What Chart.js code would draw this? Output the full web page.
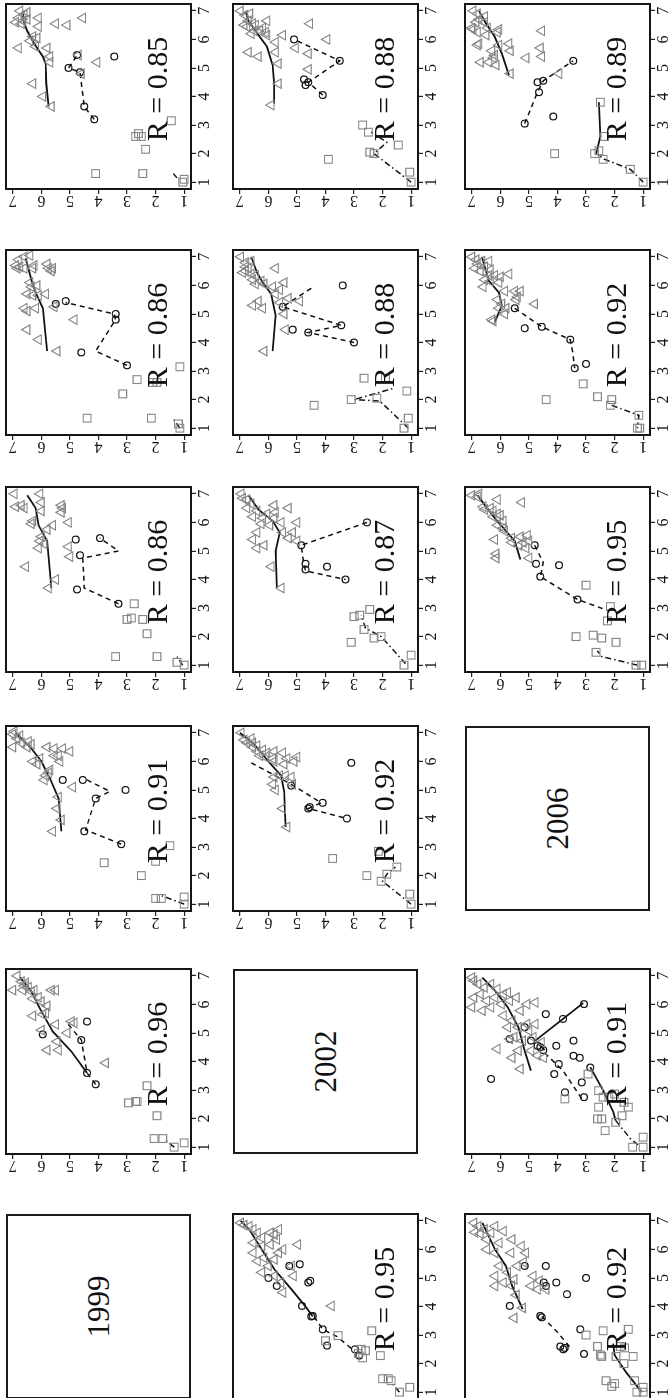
<!DOCTYPE html>
<html>
<head>
<meta charset="utf-8">
<title>Panels 1999 / 2002 / 2006</title>
<script src="https://cdn.jsdelivr.net/npm/chart.js@4.4.1/dist/chart.umd.min.js"></script>
<style>
  html, body { margin: 0; padding: 0; background: #fff; overflow: hidden; width: 668px; height: 1398px; }
  /* the figure is laid out landscape and turned a quarter to the left */
  #page { position: absolute; left: 0; top: 0; width: 1398px; height: 668px;
          transform-origin: 0 0; transform: translate(0, 1398px) rotate(-90deg); }
  .panel { position: absolute; }
  .panel canvas { position: absolute; left: 0; top: 0; }
  .rlab { position: absolute; font-family: "Liberation Serif", serif; font-size: 30px; line-height: 30px;
          white-space: nowrap; color: #111; transform: translateX(-50%); }
  .year { position: absolute; box-sizing: border-box; border: 2px solid #1a1a1a; display: flex;
          align-items: center; justify-content: center; font-family: "Liberation Serif", serif;
          font-size: 31px; color: #111; }
</style>
</head>
<body>
<div id="page"></div>
<script>
// --- DATA ---
const tickValues = [1, 2, 3, 4, 5, 6, 7];
const yearLabels = ["1999", "2002", "2006"];

// row 1, col 2  (R = 0.96)
const tri_1_2 = [[7.0,6.85],[6.5,7.0],[6.8,6.7],[6.65,6.6],[6.6,6.45],[6.45,6.35],[6.5,6.25],[6.75,6.55],[6.5,6.65],[6.5,5.65],[6.5,5.5],[6.2,6.3],[6.25,6.1],[6.1,6.0],[5.95,5.8],[5.6,6.3],[5.65,5.95],[5.7,5.85],[5.3,5.5],[5.4,4.95],[5.35,4.85],[5.0,5.1],[5.1,6.0],[4.7,5.45],[4.4,5.4],[4.4,5.8],[3.95,3.75]];
const cir_1_2 = [[5.4,4.4],[4.95,5.95],[4.75,4.6],[3.6,4.4],[3.2,4.1]];
const sq_1_2 = [[3.15,2.3],[2.55,2.95],[2.6,2.7],[2.6,2.65],[2.1,1.95],[1.3,2.05],[1.3,1.75],[1.15,1.0],[1.0,1.35]];
const solid_1_2 = [[3.6,4.4],[4.35,4.95],[5.05,5.6],[5.85,6.05],[6.45,6.35],[6.95,6.75]];
const dash_1_2 = [[3.2,4.1],[3.6,4.4],[4.75,4.6],[5.05,4.85],[5.35,5.1]];
const dotdash_1_2 = [[1.0,1.35],[1.25,1.65]];

// row 1, col 3  (R = 0.91)
const tri_1_3 = [[6.95,7.0],[7.05,6.95],[6.8,6.85],[6.9,6.75],[6.65,6.7],[6.7,6.45],[6.6,6.35],[6.5,6.5],[6.5,7.0],[6.5,5.8],[6.45,5.55],[6.45,5.25],[6.35,5.0],[6.2,5.55],[6.2,5.4],[6.0,5.35],[6.0,6.3],[5.9,6.15],[6.1,6.05],[5.5,5.85],[5.6,5.75],[5.35,5.9],[5.7,5.7],[5.1,4.9],[4.75,5.4],[4.35,5.45],[3.95,5.3],[3.55,5.6]];
const cir_1_3 = [[5.35,5.25],[5.35,4.55],[5.0,3.05],[4.7,4.1],[3.55,4.5],[3.1,3.2]];
const sq_1_3 = [[3.05,1.5],[2.45,3.8],[2.5,2.0],[2.0,2.5],[1.2,2.0],[1.2,1.8],[1.25,1.0],[1.0,1.0]];
const solid_1_3 = [[3.55,5.3],[4.7,5.4],[5.4,5.7],[6.0,6.0],[6.45,6.35],[7.0,6.9]];
const dash_1_3 = [[3.1,3.2],[3.6,4.45],[4.7,4.1],[4.95,3.6],[5.4,4.5]];
const dotdash_1_3 = [[1.0,1.0],[1.3,1.8]];

// row 1, col 4  (R = 0.86)
const tri_1_4 = [[7.0,6.95],[7.0,6.05],[6.6,6.7],[6.55,6.9],[6.5,6.6],[6.7,6.0],[6.4,6.0],[6.6,5.3],[6.5,5.25],[6.35,5.3],[6.05,6.3],[5.95,6.35],[5.9,5.6],[5.75,5.8],[6.0,5.05],[5.5,6.0],[5.35,6.05],[5.25,5.9],[5.1,6.1],[5.15,5.05],[4.8,5.0],[4.45,6.55],[4.0,5.5],[3.7,5.75]];
const cir_1_4 = [[5.4,4.8],[5.45,3.95],[4.85,4.65],[3.65,4.75],[3.15,3.3]];
const sq_1_4 = [[3.15,2.75],[2.65,2.85],[2.6,3.0],[2.6,2.45],[2.1,2.3],[1.3,3.4],[1.3,1.95],[1.1,1.25],[1.0,1.0]];
const solid_1_4 = [[3.7,5.65],[5.35,5.8],[5.9,6.1],[6.5,6.2],[6.95,6.5]];
const dash_1_4 = [[3.15,3.3],[3.7,4.5],[4.75,4.55],[5.0,3.3],[5.45,3.95]];
const dotdash_1_4 = [[1.0,1.05],[1.3,1.25]];

// row 1, col 5  (R = 0.86)
const tri_1_5 = [[7.0,6.6],[7.05,6.4],[6.9,6.8],[6.7,6.9],[6.6,6.85],[6.65,6.75],[6.6,6.6],[6.6,6.3],[6.7,6.25],[6.75,5.8],[6.6,5.75],[6.6,5.6],[6.5,5.65],[6.1,6.4],[6.0,6.15],[5.95,6.35],[5.7,6.5],[5.65,6.3],[5.65,6.1],[5.7,5.85],[5.2,6.6],[5.1,6.5],[5.2,6.2],[5.25,5.55],[4.8,4.85],[4.45,6.5],[4.1,6.1],[3.7,5.45]];
const cir_1_5 = [[5.35,5.5],[5.45,5.15],[5.0,3.4],[4.8,3.4],[3.65,4.6],[3.2,3.0]];
const sq_1_5 = [[3.15,1.15],[2.7,2.65],[2.6,2.1],[2.6,1.95],[2.2,3.15],[1.35,4.4],[1.35,2.15],[1.15,1.2],[1.0,1.15]];
const solid_1_5 = [[3.7,5.8],[5.2,5.95],[5.75,6.2],[6.2,6.35],[6.95,6.55]];
const dash_1_5 = [[3.2,3.0],[3.7,4.1],[4.8,3.4],[5.0,3.45],[5.4,5.15]];
const dotdash_1_5 = [[1.0,1.15],[1.35,1.4]];

// row 1, col 6  (R = 0.85)
const tri_1_6 = [[7.0,6.75],[6.95,6.5],[6.75,6.8],[6.6,6.9],[6.65,6.65],[6.7,6.5],[6.85,6.6],[6.55,6.7],[6.75,6.1],[6.55,5.5],[6.5,5.1],[6.75,4.55],[6.45,6.1],[6.1,6.3],[6.05,6.15],[5.95,6.4],[5.75,6.2],[5.7,6.8],[5.7,5.8],[5.4,5.7],[5.2,5.7],[5.45,4.7],[5.2,4.05],[4.8,4.6],[4.45,6.3],[4.0,5.95],[3.65,5.65]];
const cir_1_6 = [[3.2,4.15],[3.65,4.5],[4.85,4.65],[5.0,5.05],[5.45,4.75],[5.4,3.45]];
const sq_1_6 = [[3.15,1.45],[2.7,2.6],[2.6,2.7],[2.6,2.5],[2.15,2.35],[1.3,4.1],[1.3,2.45],[1.1,1.0],[1.0,1.05]];
const solid_1_6 = [[3.65,5.75],[4.45,5.83],[5.15,5.85],[5.4,5.95],[5.85,6.25],[6.3,6.5],[6.7,6.65],[7.0,6.62]];
const dash_1_6 = [[3.2,4.15],[3.65,4.5],[4.85,4.65],[5.0,5.05],[5.45,4.75]];
const dotdash_1_6 = [[1.15,1.25],[1.3,1.38]];

// row 2, col 1  (R = 0.95)
const tri_2_1 = [[6.93,6.97],[6.85,6.85],[6.81,6.67],[6.7,6.53],[6.58,6.38],[6.41,6.23],[6.58,5.93],[6.52,5.79],[6.7,5.64],[6.23,6.53],[6.12,6.23],[6.17,5.93],[6.35,5.71],[6.0,5.49],[6.17,4.97],[5.88,6.53],[5.71,6.16],[5.65,5.79],[5.88,5.64],[5.59,6.38],[5.42,6.0],[5.19,6.23],[5.07,5.79],[5.42,5.19],[5.07,5.12],[4.84,5.56],[4.49,5.49],[4.02,3.79]];
const cir_2_1 = [[5.42,5.27],[5.48,4.9],[4.9,4.53],[4.84,4.6],[5.0,6.0],[4.72,5.71],[4.02,4.82],[3.67,4.45],[3.65,4.5],[3.2,4.1],[2.63,3.95],[2.5,2.97],[2.28,2.82]];
const sq_2_1 = [[2.8,4.0],[2.98,3.56],[3.15,2.38],[2.28,2.08],[2.5,2.75],[2.45,2.6],[2.35,2.85],[2.2,2.7],[1.47,2.0],[1.47,1.8],[1.4,1.7],[1.17,1.05],[1.0,1.41]];
const solid_2_1 = [[3.65,4.45],[4.0,4.7],[4.6,5.19],[5.3,5.79],[6.0,6.23],[6.7,6.67],[7.0,6.97]];
const dash_2_1 = [[3.65,4.4],[3.2,4.1],[2.95,3.6],[2.45,3.0]];
const dotdash_2_1 = [[1.0,1.41],[1.35,1.7]];

// row 2, col 3  (R = 0.92)
const tri_2_3 = [[7.0,6.95],[6.75,6.85],[6.65,6.75],[6.5,6.55],[6.55,6.4],[6.35,6.4],[6.4,6.2],[6.3,6.05],[6.15,6.1],[6.1,5.85],[6.2,6.3],[6.8,6.6],[6.65,6.55],[6.35,5.8],[6.3,5.5],[6.1,5.35],[6.0,5.8],[5.9,5.45],[6.0,5.1],[6.15,5.0],[5.5,5.6],[5.5,5.4],[5.45,5.2],[5.2,5.15],[5.45,5.8],[5.2,5.85],[5.0,5.75],[4.35,5.5],[3.7,5.35]];
const cir_2_3 = [[5.95,3.1],[5.15,5.2],[4.35,4.6],[4.4,4.55],[4.55,4.1],[4.0,3.25]];
const sq_2_3 = [[2.85,2.15],[2.6,3.75],[2.3,1.5],[2.05,1.85],[2.0,2.55],[1.8,2.05],[1.35,1.05],[1.0,1.0]];
const solid_2_3 = [[3.7,5.4],[4.95,5.45],[5.5,5.55],[6.0,6.0],[6.6,6.5],[7.0,7.0]];
const dash_2_3 = [[5.95,6.6],[5.2,5.2],[4.55,4.15],[4.35,4.6],[4.0,3.25]];
const dotdash_2_3 = [[1.0,1.0],[1.8,2.0],[2.05,1.85],[2.3,1.55]];

// row 2, col 4  (R = 0.87)
const tri_2_4 = [[7.0,6.95],[6.85,6.9],[6.8,6.75],[6.65,6.6],[6.5,6.75],[6.4,6.4],[6.2,6.55],[6.15,6.2],[6.3,6.05],[5.95,6.25],[5.9,5.95],[6.6,5.8],[6.35,5.75],[6.15,5.8],[6.0,5.55],[6.5,5.3],[6.0,5.0],[5.65,5.5],[5.65,5.15],[5.45,5.3],[5.35,5.0],[5.65,6.4],[5.4,6.55],[5.2,6.15],[5.1,6.4],[4.45,5.9],[3.7,5.55]];
const cir_2_4 = [[6.0,2.55],[5.2,4.85],[4.55,4.7],[4.35,4.7],[4.45,3.95],[4.0,3.3]];
const sq_2_4 = [[2.95,2.45],[2.7,3.0],[2.75,2.8],[2.25,2.65],[1.95,2.3],[2.0,2.05],[1.8,3.1],[1.35,1.0],[1.0,1.25]];
const solid_2_4 = [[3.7,5.7],[5.0,5.75],[5.65,5.6],[6.05,5.85],[6.45,6.35],[6.95,6.7]];
const dash_2_4 = [[6.0,2.55],[5.2,4.85],[4.5,4.75],[4.3,4.7],[4.0,3.3]];
const dotdash_2_4 = [[1.05,1.2],[2.0,2.05],[2.3,2.6],[2.75,2.75]];

// row 2, col 5  (R = 0.88)
const tri_2_5 = [[7.0,6.97],[6.8,6.8],[6.6,6.7],[6.5,6.8],[6.4,6.6],[6.35,6.45],[6.2,6.55],[6.15,6.25],[6.05,6.45],[6.05,6.15],[6.45,6.9],[6.65,6.8],[6.85,6.6],[6.6,5.75],[6.1,5.45],[5.95,5.85],[5.85,5.6],[5.7,5.75],[5.3,6.55],[5.2,6.2],[5.45,6.35],[5.4,5.6],[5.55,5.3],[5.45,4.9],[5.0,5.45],[4.45,5.4],[3.7,6.15]];
const cir_2_5 = [[5.25,5.5],[6.0,3.4],[4.6,3.45],[4.45,5.15],[4.35,4.6],[4.0,3.0]];
const sq_2_5 = [[2.75,2.65],[2.75,1.9],[2.0,3.1],[2.05,2.2],[2.3,1.15],[1.8,4.4],[1.35,1.1],[1.0,1.25]];
const solid_2_5 = [[3.7,5.85],[4.95,5.75],[5.7,5.9],[6.1,6.2],[6.45,6.4],[7.0,6.6]];
const dash_2_5 = [[5.9,4.5],[5.25,5.5],[4.6,3.45],[4.35,4.6],[4.0,3.0]];
const dotdash_2_5 = [[1.0,1.1],[1.95,2.1],[2.0,3.0],[2.4,1.6]];

// row 2, col 6  (R = 0.88)
const tri_2_6 = [[7.0,6.98],[6.85,6.82],[6.9,6.65],[6.65,6.7],[6.5,6.85],[6.45,6.75],[6.55,6.55],[6.5,6.45],[6.3,6.3],[6.4,6.2],[6.3,6.5],[6.2,6.6],[6.65,6.05],[6.25,6.1],[6.15,6.05],[6.15,5.5],[6.55,4.55],[6.0,3.95],[5.9,5.75],[5.55,6.7],[5.4,6.35],[5.55,5.75],[5.15,5.65],[5.5,4.6],[4.95,4.6],[4.45,5.65],[3.7,5.9],[5.7,5.05]];
const cir_2_6 = [[6.0,5.1],[5.25,3.5],[4.6,4.75],[4.4,4.7],[4.5,4.6],[4.05,4.1]];
const sq_2_6 = [[3.0,2.7],[2.75,2.5],[2.3,1.45],[2.05,2.45],[2.0,2.3],[1.8,3.9],[1.35,1.05],[1.0,1.0]];
const solid_2_6 = [[3.75,5.8],[4.45,5.8],[5.1,5.85],[5.75,6.05],[6.15,6.35],[6.65,6.7],[7.0,6.8]];
const dash_2_6 = [[4.05,4.1],[4.5,4.6],[5.25,3.5],[6.0,5.1]];
const dotdash_2_6 = [[1.0,1.0],[2.0,2.3],[2.4,1.85],[2.75,2.4]];

// row 3, col 1  (R = 0.92)
const tri_3_1 = [[6.93,6.93],[6.81,6.78],[6.7,6.56],[6.58,6.33],[6.35,6.48],[6.81,6.19],[6.64,5.89],[6.23,6.04],[6.35,5.59],[6.0,6.48],[5.88,6.19],[5.88,5.63],[6.12,5.26],[5.88,5.11],[6.6,6.9],[6.55,6.7],[5.42,6.04],[5.19,5.74],[4.95,5.52],[4.84,5.89],[5.42,5.41],[5.55,5.19],[5.07,6.19],[4.72,5.6],[4.72,6.19],[5.07,4.85],[4.9,4.63],[4.72,4.93],[4.6,4.7],[4.6,4.4],[4.4,5.44],[3.6,5.52],[3.95,5.22]];
const cir_3_1 = [[5.42,5.15],[5.42,4.41],[5.0,3.0],[4.72,4.4],[4.84,4.48],[4.84,4.04],[4.43,3.67],[4.02,5.67],[3.67,4.6],[3.62,4.55],[3.2,3.2],[2.6,3.9],[2.55,3.75],[2.5,3.8],[2.34,3.07]];
const sq_3_1 = [[3.15,2.4],[3.2,1.52],[3.0,3.0],[2.6,2.6],[2.6,1.8],[2.55,1.65],[2.25,1.35],[2.25,1.95],[2.25,2.45],[2.3,2.5],[2.0,1.67],[1.4,2.3],[1.3,2.0],[1.2,2.1],[1.4,1.3],[1.0,1.22],[1.0,1.0],[1.17,1.0]];
const solid_3_1 = [[3.91,5.22],[4.72,5.59],[5.42,5.81],[6.0,6.19],[6.93,6.63]];
const sqSolid_3_1 = [[1.0,1.05],[1.7,1.6],[2.3,2.0],[2.7,2.05]];
const dash_3_1 = [[3.65,4.55],[3.1,4.0],[2.5,3.5]];

// row 3, col 2  (R = 0.91)
const tri_3_2 = [[6.94,7.0],[6.83,6.93],[6.71,6.78],[6.59,6.56],[6.71,6.33],[6.54,6.11],[6.36,5.89],[6.42,5.74],[6.24,6.19],[6.13,6.48],[6.36,6.7],[6.24,6.93],[5.9,7.0],[5.78,6.63],[5.9,6.33],[6.01,5.96],[6.13,5.67],[6.24,5.44],[5.78,5.3],[6.01,5.07],[6.07,4.78],[5.61,5.89],[5.43,5.59],[5.2,5.74],[5.2,5.37],[5.31,5.07],[5.31,4.78],[5.08,5.0],[4.85,5.52],[4.73,5.22],[4.85,4.85],[4.67,4.56],[4.38,5.37],[4.38,4.93],[4.21,4.7],[4.13,5.59],[4.13,4.48],[3.74,5.3],[4.79,5.67],[4.44,6.11]];
const cir_3_2 = [[3.39,6.33],[4.79,5.67],[5.2,5.15],[4.73,4.93],[4.4,4.5],[4.5,4.6],[4.55,4.7],[5.66,4.41],[5.49,3.81],[4.55,4.04],[4.73,3.44],[6.01,3.07],[3.91,3.96],[4.2,3.44],[4.13,3.22],[3.56,4.11],[3.79,2.85],[3.27,3.15],[2.92,3.74],[2.75,3.07]];
const sq_3_2 = [[2.69,3.74],[3.56,2.93],[2.98,2.56],[2.75,2.4],[2.75,2.2],[2.86,2.0],[2.57,1.67],[2.4,2.56],[1.99,2.6],[1.99,2.45],[2.4,1.52],[2.1,1.74],[1.87,1.96],[1.58,2.33],[1.35,1.0],[1.0,1.37],[1.0,1.0]];
const solid_3_2 = [[3.68,4.93],[4.38,5.15],[5.2,5.37],[5.9,5.74],[6.48,6.19],[6.94,6.63]];
const cirSolid_3_2 = [[4.4,4.45],[4.73,4.78],[6.05,3.1]];
const sqSolid_3_2 = [[3.8,2.85],[2.98,2.4],[2.22,2.04],[1.93,1.96]];
const dash_3_2 = [[4.3,4.45],[3.68,3.81],[2.7,3.15]];
const dotdash_3_2 = [[1.93,1.96],[1.29,1.44],[1.06,1.15]];

// row 3, col 4  (R = 0.95)
const tri_3_4 = [[6.95,7.0],[7.0,6.75],[6.9,6.8],[6.7,5.25],[6.8,6.1],[6.55,6.6],[6.45,6.55],[6.5,6.35],[6.4,6.25],[6.3,6.1],[6.25,6.0],[6.2,6.25],[6.05,5.9],[5.9,6.1],[5.8,5.9],[5.7,5.85],[5.4,6.2],[5.5,5.3],[5.3,5.2],[5.1,5.1],[5.3,5.6],[5.2,5.35],[5.35,5.0],[4.9,6.15],[4.75,6.15],[4.75,5.0],[5.45,5.6],[5.55,5.05]];
const cir_3_4 = [[5.2,4.8],[4.55,4.75],[4.5,3.95],[4.1,4.6],[3.3,3.3]];
const sq_3_4 = [[3.8,3.0],[3.05,2.15],[2.55,2.25],[2.0,3.35],[2.05,2.75],[1.95,2.45],[1.8,1.95],[1.45,2.65],[1.0,1.25],[1.0,1.05]];
const solid_3_4 = [[4.7,5.3],[5.35,5.5],[5.75,5.85],[6.15,6.2],[6.95,6.8]];
const dash_3_4 = [[5.2,4.8],[4.6,4.5],[4.1,4.6],[3.3,3.3],[2.9,2.2]];
const dotdash_3_4 = [[1.0,1.2],[1.3,2.45],[1.5,2.6]];

// row 3, col 5  (R = 0.92)
const tri_3_5 = [[7.0,7.0],[6.9,6.85],[6.85,6.65],[6.85,6.4],[6.75,6.8],[6.65,6.55],[6.6,6.9],[6.5,6.7],[6.55,6.35],[6.2,6.55],[6.35,6.4],[6.35,6.2],[6.3,6.0],[6.15,6.35],[6.1,6.05],[5.95,6.6],[6.4,5.7],[5.8,5.85],[5.8,5.5],[5.8,5.3],[5.6,5.4],[5.5,5.45],[5.5,6.1],[5.35,5.95],[5.2,5.8],[5.2,6.05],[5.35,4.8],[5.0,5.85],[4.8,6.3],[4.75,6.25]];
const cir_3_5 = [[5.2,5.5],[4.5,5.15],[4.55,4.55],[4.1,3.55],[3.1,3.4],[3.25,3.0]];
const sq_3_5 = [[2.55,3.1],[2.1,2.6],[2.0,2.1],[1.8,2.15],[2.0,4.4],[1.45,1.15],[1.0,1.2],[1.0,1.12]];
const solid_3_5 = [[4.7,6.2],[5.3,5.95],[5.75,6.05],[6.15,6.4],[7.0,6.65]];
const dash_3_5 = [[5.2,5.5],[4.55,4.55],[4.1,3.55],[3.55,3.45],[3.1,3.4]];
const dotdash_3_5 = [[1.8,2.1],[1.45,1.15],[1.0,1.2]];

// row 3, col 6  (R = 0.89)
const tri_3_6 = [[7.0,6.95],[6.9,6.8],[6.7,6.75],[6.6,6.85],[6.35,6.95],[6.4,7.0],[6.25,6.8],[6.6,6.55],[6.8,6.55],[6.25,6.1],[6.35,6.05],[5.85,6.75],[5.8,6.8],[6.3,4.55],[5.8,6.05],[5.85,5.7],[5.6,5.65],[5.6,6.3],[5.45,6.2],[5.35,6.25],[5.2,6.4],[5.2,6.7],[5.1,6.15],[5.35,5.1],[5.7,4.6],[5.4,4.55],[4.8,5.65],[4.8,3.95],[6.15,6.5],[6.4,6.45]];
const cir_3_6 = [[5.25,3.45],[4.55,4.5],[4.5,4.7],[4.15,4.65],[3.3,4.15],[3.05,5.15]];
const sq_3_6 = [[3.8,2.5],[2.6,2.35],[2.0,2.7],[2.1,2.55],[2.0,4.1],[1.8,2.4],[1.45,1.45],[1.0,1.0]];
const solid_3_6 = [[4.75,5.7],[5.5,5.95],[6.1,6.2],[6.55,6.5],[7.0,6.75]];
const sqSolid_3_6 = [[2.0,2.65],[2.6,2.5],[3.8,2.55]];
const dash_3_6 = [[3.05,5.15],[4.15,4.7],[4.55,4.5],[5.25,3.45]];
const dotdash_3_6 = [[1.0,1.0],[1.45,1.45],[1.8,2.35],[2.0,2.65]];

const rLabels = {
    "1_2": "R = 0.96", "1_3": "R = 0.91", "1_4": "R = 0.86", "1_5": "R = 0.86", "1_6": "R = 0.85",
    "2_1": "R = 0.95", "2_3": "R = 0.92", "2_4": "R = 0.87", "2_5": "R = 0.88", "2_6": "R = 0.88",
    "3_1": "R = 0.92", "3_2": "R = 0.91", "3_4": "R = 0.95", "3_5": "R = 0.92", "3_6": "R = 0.89"
};

// --- LAYOUT (landscape coords, before the turn) ---
const colLeft = [-1, 244, 487, 726, 963, 1209];
const rowTop = [6, 233, 465];
const BOX = 185, AXW = 30, PAD = 2;
const GRAY = "#858585";

const panels = [
    {row: 1, col: 2, tri: tri_1_2, cir: cir_1_2, sq: sq_1_2, solid: [solid_1_2], dash: [dash_1_2], dotdash: [dotdash_1_2]},
    {row: 1, col: 3, tri: tri_1_3, cir: cir_1_3, sq: sq_1_3, solid: [solid_1_3], dash: [dash_1_3], dotdash: [dotdash_1_3]},
    {row: 1, col: 4, tri: tri_1_4, cir: cir_1_4, sq: sq_1_4, solid: [solid_1_4], dash: [dash_1_4], dotdash: [dotdash_1_4]},
    {row: 1, col: 5, tri: tri_1_5, cir: cir_1_5, sq: sq_1_5, solid: [solid_1_5], dash: [dash_1_5], dotdash: [dotdash_1_5]},
    {row: 1, col: 6, tri: tri_1_6, cir: cir_1_6, sq: sq_1_6, solid: [solid_1_6], dash: [dash_1_6], dotdash: [dotdash_1_6]},
    {row: 2, col: 1, tri: tri_2_1, cir: cir_2_1, sq: sq_2_1, solid: [solid_2_1], dash: [dash_2_1], dotdash: [dotdash_2_1]},
    {row: 2, col: 3, tri: tri_2_3, cir: cir_2_3, sq: sq_2_3, solid: [solid_2_3], dash: [dash_2_3], dotdash: [dotdash_2_3]},
    {row: 2, col: 4, tri: tri_2_4, cir: cir_2_4, sq: sq_2_4, solid: [solid_2_4], dash: [dash_2_4], dotdash: [dotdash_2_4]},
    {row: 2, col: 5, tri: tri_2_5, cir: cir_2_5, sq: sq_2_5, solid: [solid_2_5], dash: [dash_2_5], dotdash: [dotdash_2_5]},
    {row: 2, col: 6, tri: tri_2_6, cir: cir_2_6, sq: sq_2_6, solid: [solid_2_6], dash: [dash_2_6], dotdash: [dotdash_2_6]},
    {row: 3, col: 1, tri: tri_3_1, cir: cir_3_1, sq: sq_3_1, solid: [solid_3_1, sqSolid_3_1], dash: [dash_3_1], dotdash: []},
    {row: 3, col: 2, tri: tri_3_2, cir: cir_3_2, sq: sq_3_2, solid: [solid_3_2, cirSolid_3_2, sqSolid_3_2], dash: [dash_3_2], dotdash: [dotdash_3_2]},
    {row: 3, col: 4, tri: tri_3_4, cir: cir_3_4, sq: sq_3_4, solid: [solid_3_4], dash: [dash_3_4], dotdash: [dotdash_3_4]},
    {row: 3, col: 5, tri: tri_3_5, cir: cir_3_5, sq: sq_3_5, solid: [solid_3_5], dash: [dash_3_5], dotdash: [dotdash_3_5]},
    {row: 3, col: 6, tri: tri_3_6, cir: cir_3_6, sq: sq_3_6, solid: [solid_3_6, sqSolid_3_6], dash: [dash_3_6], dotdash: [dotdash_3_6]}
];

const page = document.getElementById("page");

// box round the plotting area (Chart.js only draws the axis side)
const framePlugin = {
    id: "frame",
    afterDraw(chart) {
        const {ctx, chartArea: a} = chart;
        ctx.save();
        ctx.strokeStyle = "#151515";
        ctx.lineWidth = 2;
        ctx.strokeRect(a.left, a.top, a.right - a.left, a.bottom - a.top);
        ctx.restore();
    }
};

function pts(arr) {
    return arr.map(p => ({x: p[0], y: p[1]}));
}

function axis(pos) {
    const isY = pos === "left";
    return {
        type: "linear", position: pos, min: 0.76, max: 7.24,
        afterBuildTicks: s => { s.ticks = tickValues.map(v => ({value: v})); },
        afterFit: s => {
            if (isY) s.width = AXW; else s.height = AXW;
            s.paddingTop = 0; s.paddingBottom = 0; s.paddingLeft = 0; s.paddingRight = 0;
        },
        grid: {drawOnChartArea: false, drawTicks: true, tickLength: 5, color: "#222", tickColor: "#222", lineWidth: 1.2},
        border: {display: false},
        ticks: {
            autoSkip: false, color: "#111", padding: isY ? 2.5 : -1,
            minRotation: isY ? 90 : 0, maxRotation: isY ? 90 : 0,
            crossAlign: isY ? "center" : "near",
            font: {family: "Liberation Serif", size: 16},
            callback: v => String(v)
        }
    };
}

function pointSet(data, style, color, radius, width) {
    return {
        data: pts(data), showLine: false, pointStyle: style,
        pointRadius: radius, pointHoverRadius: radius,
        pointBorderColor: color, borderColor: color, pointBackgroundColor: "rgba(0,0,0,0)",
        backgroundColor: "rgba(0,0,0,0)", pointBorderWidth: width
    };
}

function lineSet(data, dash, width) {
    return {
        data: pts(data), showLine: true, borderColor: "#111", borderWidth: width,
        borderDash: dash, pointRadius: 0, pointHoverRadius: 0, fill: false, tension: 0
    };
}

function makePanel(p) {
    const wrap = document.createElement("div");
    wrap.className = "panel";
    wrap.style.left = (colLeft[p.col - 1] - AXW) + "px";
    wrap.style.top = (rowTop[p.row - 1] - PAD) + "px";
    wrap.style.width = (AXW + BOX + PAD) + "px";
    wrap.style.height = (PAD + BOX + AXW) + "px";

    const cv = document.createElement("canvas");
    cv.width = AXW + BOX + PAD;
    cv.height = PAD + BOX + AXW;
    wrap.appendChild(cv);

    const lab = document.createElement("div");
    lab.className = "rlab";
    lab.textContent = rLabels[p.row + "_" + p.col];
    lab.style.left = (AXW + 100) + "px";
    lab.style.top = (PAD + 136) + "px";
    wrap.appendChild(lab);
    page.appendChild(wrap);

    const datasets = [
        pointSet(p.tri, "triangle", GRAY, 5.5, 1.1),
        pointSet(p.sq, "rect", GRAY, 5.5, 1.1),
        pointSet(p.cir, "circle", "#111", 3.4, 1.2)
    ];
    p.solid.forEach(l => datasets.push(lineSet(l, [], 1.8)));
    p.dash.forEach(l => datasets.push(lineSet(l, [5, 4], 1.5)));
    p.dotdash.forEach(l => datasets.push(lineSet(l, [6, 3, 1.5, 3], 1.5)));

    new Chart(cv, {
        type: "scatter",
        data: {datasets},
        options: {
            responsive: false, animation: false, devicePixelRatio: 1, events: [],
            layout: {padding: {top: PAD, right: PAD, left: 0, bottom: 0}, autoPadding: false},
            plugins: {legend: {display: false}, tooltip: {enabled: false}},
            scales: {x: axis("bottom"), y: axis("left")}
        },
        plugins: [framePlugin]
    });
}

function makeYear(text, row, col) {
    const box = document.createElement("div");
    box.className = "year";
    box.style.left = colLeft[col - 1] + "px";
    box.style.top = rowTop[row - 1] + "px";
    box.style.width = BOX + "px";
    box.style.height = BOX + "px";
    box.textContent = text;
    page.appendChild(box);
}

panels.forEach(makePanel);
yearLabels.forEach((y, i) => makeYear(y, i + 1, i + 1));
</script>
</body>
</html>
